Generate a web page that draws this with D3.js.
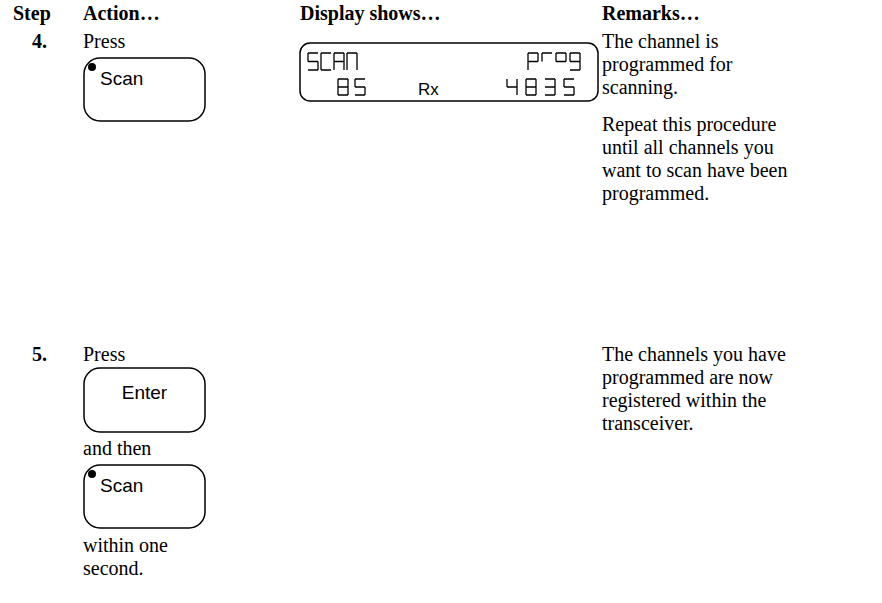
<!DOCTYPE html>
<html>
<head>
<meta charset="utf-8">
<script src="https://cdn.jsdelivr.net/npm/d3@7"></script>
<style>
html,body{margin:0;padding:0;background:#fff;}
svg{display:block;}
</style>
</head>
<body>
<svg id="page" width="882" height="603"></svg>
<script>
// ---- content data ----
const headers = ["Step", "Action\u2026", "Display shows\u2026", "Remarks\u2026"];
const stepNumbers = ["4.", "5."];
const step4Action = ["Press"];
const step4Keys = ["Scan"];
const lcdTopLeft = "SCAN";
const lcdTopRight = "prog";
const lcdBottomLeft = "85";
const lcdBottomMid = "Rx";
const lcdBottomRight = "4835";
const step4Remarks1 = ["The channel is", "programmed for", "scanning."];
const step4Remarks2 = ["Repeat this procedure", "until all channels you", "want to scan have been", "programmed."];
const step5Action = ["Press", "and then", "within one", "second."];
const step5Keys = ["Enter", "Scan"];
const step5Remarks = ["The channels you have", "programmed are now", "registered within the", "transceiver."];

// ---- layout ----
const svg = d3.select("#page");
const serif = "'Liberation Serif','Times New Roman',serif";
const sans = "'Liberation Sans',Arial,sans-serif";
const colX = d3.scaleOrdinal().domain(headers).range([13, 83, 300, 602]);
const lineH = 23;
const FS = 20;

svg.selectAll("text.hdr").data(headers).join("text")
  .attr("class","hdr").attr("x", d => colX(d)).attr("y", 20)
  .attr("font-family", serif).attr("font-weight","bold").attr("font-size", FS)
  .text(d => d);

function lines(arr, x, y0, step, bold) {
  svg.append("g").selectAll("text").data(arr).join("text")
    .attr("x", x).attr("y", (d,i) => y0 + i*step)
    .attr("font-family", serif).attr("font-size", FS)
    .attr("font-weight", bold ? "bold" : "normal")
    .text(d => d);
}

function key(label, x, y, w, h, dot) {
  const g = svg.append("g").attr("transform", `translate(${x},${y})`);
  g.append("rect").attr("width", w).attr("height", h).attr("rx", 16).attr("ry", 16)
    .attr("fill","none").attr("stroke","#000").attr("stroke-width",1.5);
  if (dot) {
    g.append("circle").attr("cx", 8).attr("cy", 9).attr("r", 4).attr("fill","#000");
    g.append("text").attr("x", 16).attr("y", 27).attr("font-family", sans).attr("font-size",19).text(label);
  } else {
    g.append("text").attr("x", w/2).attr("y", 31).attr("text-anchor","middle")
      .attr("font-family", sans).attr("font-size",19).text(label);
  }
}

// Step 4
lines([stepNumbers[0]], 32, 48, lineH, true);
lines(step4Action, 83, 48, lineH, false);
key(step4Keys[0], 84, 58, 121, 63, true);
lines(step4Remarks1, 602, 48, lineH, false);
lines(step4Remarks2, 602, 131, lineH, false);

// LCD
const lcd = svg.append("g");
lcd.append("rect").attr("x",300).attr("y",43).attr("width",298).attr("height",58)
  .attr("rx",10).attr("ry",10).attr("fill","none").attr("stroke","#000").attr("stroke-width",1.5);

// segments: a top, b upper right, c lower right, d bottom, e lower left, f upper left, g middle
const segMap = {
  "S":"afgcd","C":"afed","A":"abcefg","N":"abcef",
  "p":"abefg","r":"af","o":"abfg","g":"abfgcd",
  "8":"abcdefg","5":"afgcd","4":"fgbc","3":"abgcd"
};
function segPath(s, w, h) {
  const m = h/2, p = [];
  if (s.includes("a")) p.push(`M0,0H${w}`);
  if (s.includes("b")) p.push(`M${w},0V${m}`);
  if (s.includes("c")) p.push(`M${w},${m}V${h}`);
  if (s.includes("d")) p.push(`M0,${h}H${w}`);
  if (s.includes("e")) p.push(`M0,${m}V${h}`);
  if (s.includes("f")) p.push(`M0,0V${m}`);
  if (s.includes("g")) p.push(`M0,${m}H${w}`);
  return p.join("");
}
function lcdText(str, x, y, w, h, pitch) {
  const xs = d3.scaleLinear().domain([0,1]).range([x, x+pitch]);
  lcd.append("g").selectAll("path").data(str.split("")).join("path")
    .attr("transform",(d,i)=>`translate(${xs(i)},${y})`)
    .attr("d", d => segPath(segMap[d], w, h))
    .attr("fill","none").attr("stroke","#000").attr("stroke-width",1.3);
}
lcdText(lcdTopLeft, 308, 53, 10, 17, 13);
lcdText(lcdTopRight, 528, 53, 10, 17, 14);
lcdText(lcdBottomLeft, 338, 79, 10, 16, 17);
lcdText(lcdBottomRight, 507, 79, 10, 16, 19);
lcd.append("text").attr("x",418).attr("y",95).attr("font-family", sans)
  .attr("font-size",17).text(lcdBottomMid);

// Step 5
lines([stepNumbers[1]], 32, 361, lineH, true);
lines([step5Action[0]], 83, 361, lineH, false);
key(step5Keys[0], 84, 368, 121, 64, false);
lines([step5Action[1]], 83, 455, lineH, false);
key(step5Keys[1], 84, 465, 121, 63, true);
lines(step5Action.slice(2), 83, 552, lineH, false);
lines(step5Remarks, 602, 361, lineH, false);
</script>
</body>
</html>
